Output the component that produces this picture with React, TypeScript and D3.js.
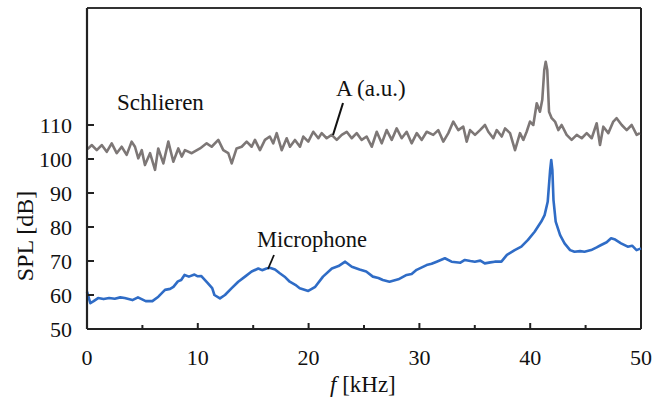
import React from "react";
import * as d3 from "d3";

const xTicks = [0, 10, 20, 30, 40, 50];
const xMinorTicks = [5, 15, 25, 35, 45];
const yTicks = [50, 60, 70, 80, 90, 100, 110];

const schlierenFreq = [
  0, 0.12, 0.42, 0.88, 1.33, 1.78, 2.23, 2.68, 3.13, 3.58, 4.03, 4.33, 4.63, 4.94, 5.23, 5.69, 6.14, 6.43, 6.89, 7.34,
  7.79, 8.24, 8.55, 8.84, 9.45, 10.2, 10.8, 11.25, 11.85, 12.3, 12.75, 13.06, 13.5, 13.96, 14.41, 14.86, 15.16, 15.61,
  16.06, 16.5, 16.81, 17.12, 17.57, 18.02, 18.32, 18.77, 19.22, 19.52, 19.97, 20.42, 20.88, 21.18, 21.63, 22.08, 22.54,
  22.99, 23.44, 23.89, 24.34, 24.79, 25.24, 25.7, 26.15, 26.6, 27.05, 27.5, 27.95, 28.4, 28.85, 29.3, 29.76, 30.21,
  30.66, 31.25, 31.7, 32.16, 32.61, 33.06, 33.51, 33.96, 34.27, 34.57, 35.02, 35.47, 35.92, 36.22, 36.67, 36.98, 37.43,
  37.73, 38.18, 38.63, 39.08, 39.38, 39.68, 39.98, 40.28, 40.59, 40.88, 41.09, 41.27, 41.4, 41.54, 41.7, 41.94, 42.24,
  42.54, 42.84, 43.29, 43.74, 44.2, 44.65, 45.1, 45.55, 46.0, 46.3, 46.6, 47.05, 47.5, 47.8, 48.26, 48.71, 49.16,
  49.61, 49.9,
];
const schlierenValues = [
  103.0, 103.1, 104.1, 102.6, 104.1, 102.1, 104.6, 101.7, 103.6, 101.2, 105.1, 103.6, 100.2, 102.6, 98.2, 101.7, 96.8,
  103.1, 98.7, 105.1, 99.2, 103.1, 100.7, 102.6, 101.7, 103.1, 104.6, 103.6, 105.6, 102.6, 101.7, 98.7, 103.1, 103.6,
  105.1, 103.6, 105.6, 102.6, 105.6, 106.6, 104.6, 107.6, 102.6, 106.1, 103.6, 105.6, 103.6, 106.6, 105.1, 108.0,
  106.1, 107.6, 106.1, 107.1, 105.6, 107.1, 108.0, 106.1, 107.6, 105.6, 106.6, 103.6, 108.0, 104.6, 108.5, 105.6,
  109.0, 106.1, 108.0, 104.6, 107.6, 105.6, 108.0, 107.1, 108.5, 105.1, 107.6, 111.0, 108.5, 109.5, 105.1, 108.5,
  107.1, 108.5, 110.0, 108.0, 106.1, 108.5, 106.6, 109.0, 107.6, 102.6, 107.6, 105.6, 108.0, 111.0, 110.0, 116.4,
  113.9, 117.4, 126.2, 128.6, 126.2, 113.9, 112.0, 111.0, 108.5, 110.0, 107.1, 105.6, 107.1, 106.1, 107.6, 106.1,
  110.5, 104.1, 109.5, 107.6, 111.0, 112.0, 110.0, 108.5, 110.0, 107.1, 107.6,
];

const micFreq = [
  0, 0.3, 0.6, 1.0, 1.5, 2.0, 2.5, 3.0, 3.4, 4.1, 4.6, 5.3, 5.9, 6.44, 7.04, 7.5, 7.8, 8.2, 8.5, 8.8, 9.2, 9.7, 10.0,
  10.3, 10.9, 11.3, 11.5, 12.0, 12.45, 13.06, 13.65, 14.26, 14.86, 15.46, 15.8, 16.2, 16.5, 16.97, 17.4, 17.9, 18.3,
  18.8, 19.2, 19.97, 20.6, 21.3, 22.1, 22.7, 23.3, 23.9, 24.6, 25.2, 25.8, 26.3, 26.7, 27.3, 28.1, 28.85, 29.3, 29.75,
  30.65, 31.1, 31.56, 32.3, 32.9, 33.7, 34.1, 34.6, 35.0, 35.5, 35.9, 36.4, 36.8, 37.4, 37.9, 38.6, 39.2, 39.8, 40.4,
  41.0, 41.3, 41.58, 41.8, 41.9, 42.0, 42.1, 42.3, 42.7, 43.1, 43.6, 44.0, 44.5, 44.9, 45.5, 46.0, 46.4, 46.9, 47.3,
  47.6, 48.2, 48.8, 49.2, 49.6, 50,
];
const micValues = [
  61.0, 57.6, 58.2, 59.1, 58.8, 59.1, 58.9, 59.3, 59.1, 58.5, 59.3, 58.2, 58.2, 59.5, 61.5, 61.8, 62.4, 64.0, 64.4,
  65.9, 65.4, 66.0, 65.5, 65.6, 63.5, 62.0, 60.0, 59.0, 60.0, 62.0, 63.9, 65.4, 66.9, 67.8, 67.3, 67.8, 68.0, 67.5,
  66.4, 65.2, 63.9, 63.0, 62.0, 61.2, 62.4, 65.4, 67.8, 68.5, 69.8, 68.3, 67.5, 66.9, 65.4, 65.0, 64.4, 63.9, 64.6,
  65.9, 66.2, 67.4, 68.8, 69.2, 69.8, 70.8, 69.8, 69.5, 70.3, 70.0, 69.8, 70.1, 69.3, 69.6, 69.8, 69.8, 71.8, 73.2,
  74.2, 76.2, 78.6, 81.6, 83.5, 87.4, 96.8, 99.7, 96.8, 88.0, 81.6, 77.6, 75.2, 73.2, 72.7, 72.9, 72.7, 73.2, 74.0,
  74.7, 75.5, 76.7, 76.4, 75.2, 74.2, 74.5, 73.2, 73.7,
];

const Y_TOP = 144.4;
const W = 657;
const H = 398;

export default function App() {
  const x = d3.scaleLinear().domain([0, 50]).range([87, 641]);
  const y = d3.scaleLinear().domain([50, Y_TOP]).range([329, 8]);
  const serif = "'Liberation Serif', 'Times New Roman', serif";

  const line = d3
    .line<[number, number]>()
    .x((d) => x(d[0]))
    .y((d) => y(d[1]));

  const sPts: [number, number][] = schlierenFreq.map((f, i) => [f, schlierenValues[i]]);
  const mPts: [number, number][] = micFreq.map((f, i) => [f, micValues[i]]);

  return (
    <svg
      width={W}
      height={H}
      viewBox={`0 0 ${W} ${H}`}
      style={{ position: "absolute", left: 0, top: 0, background: "#fff" }}
    >
      <rect x={0} y={0} width={W} height={H} fill="#fff" />
      {/* frame */}
      <line x1={x(0)} x2={x(50)} y1={y(Y_TOP)} y2={y(Y_TOP)} stroke="#333" strokeWidth={2} />
      <line x1={x(50)} x2={x(50)} y1={y(Y_TOP)} y2={y(50)} stroke="#222" strokeWidth={2} />
      {/* data */}
      <path d={line(sPts) || ""} fill="none" stroke="#7d7776" strokeWidth={2.6} strokeLinejoin="round" />
      <path d={line(mPts) || ""} fill="none" stroke="#2f6cc6" strokeWidth={2.6} strokeLinejoin="round" />
      {/* axes */}
      <line x1={x(0)} x2={x(0)} y1={y(Y_TOP)} y2={y(50)} stroke="#222" strokeWidth={2.2} />
      <line x1={x(0)} x2={x(50)} y1={y(50)} y2={y(50)} stroke="#222" strokeWidth={2.2} />
      {yTicks.map((t) => (
        <g key={"y" + t}>
          <line x1={x(0)} x2={x(0) + 7} y1={y(t)} y2={y(t)} stroke="#222" strokeWidth={2} />
          <text
            x={72}
            y={y(t)}
            dy="0.35em"
            textAnchor="end"
            fontFamily={serif}
            fontSize={22}
            fill="#111"
          >
            {t}
          </text>
        </g>
      ))}
      {xTicks.map((t) => (
        <g key={"x" + t}>
          <line x1={x(t)} x2={x(t)} y1={y(50)} y2={y(50) - 6} stroke="#222" strokeWidth={2} />
          <text x={x(t)} y={365} textAnchor="middle" fontFamily={serif} fontSize={22} fill="#111">
            {t}
          </text>
        </g>
      ))}
      {xMinorTicks.map((t) => (
        <line key={"m" + t} x1={x(t)} x2={x(t)} y1={y(50)} y2={y(50) - 4} stroke="#222" strokeWidth={2} />
      ))}
      {/* axis titles */}
      <text
        transform="translate(33, 236) rotate(-90)"
        textAnchor="middle"
        fontFamily={serif}
        fontSize={24}
        fill="#111"
      >
        SPL [dB]
      </text>
      <text x={330} y={392} fontFamily={serif} fontSize={23} fill="#111">
        <tspan fontStyle="italic">f</tspan>
        <tspan> [kHz]</tspan>
      </text>
      {/* annotations */}
      <text x={117} y={110} fontFamily={serif} fontSize={23} fill="#111">
        Schlieren
      </text>
      <text x={336} y={96} fontFamily={serif} fontSize={23} fill="#111">
        A (a.u.)
      </text>
      <line x1={343} y1={103} x2={333} y2={135} stroke="#111" strokeWidth={2} />
      <text x={257} y={247} fontFamily={serif} fontSize={22.5} fill="#111">
        Microphone
      </text>
      <line x1={274} y1={255} x2={268} y2={269} stroke="#111" strokeWidth={1.8} />
    </svg>
  );
}
